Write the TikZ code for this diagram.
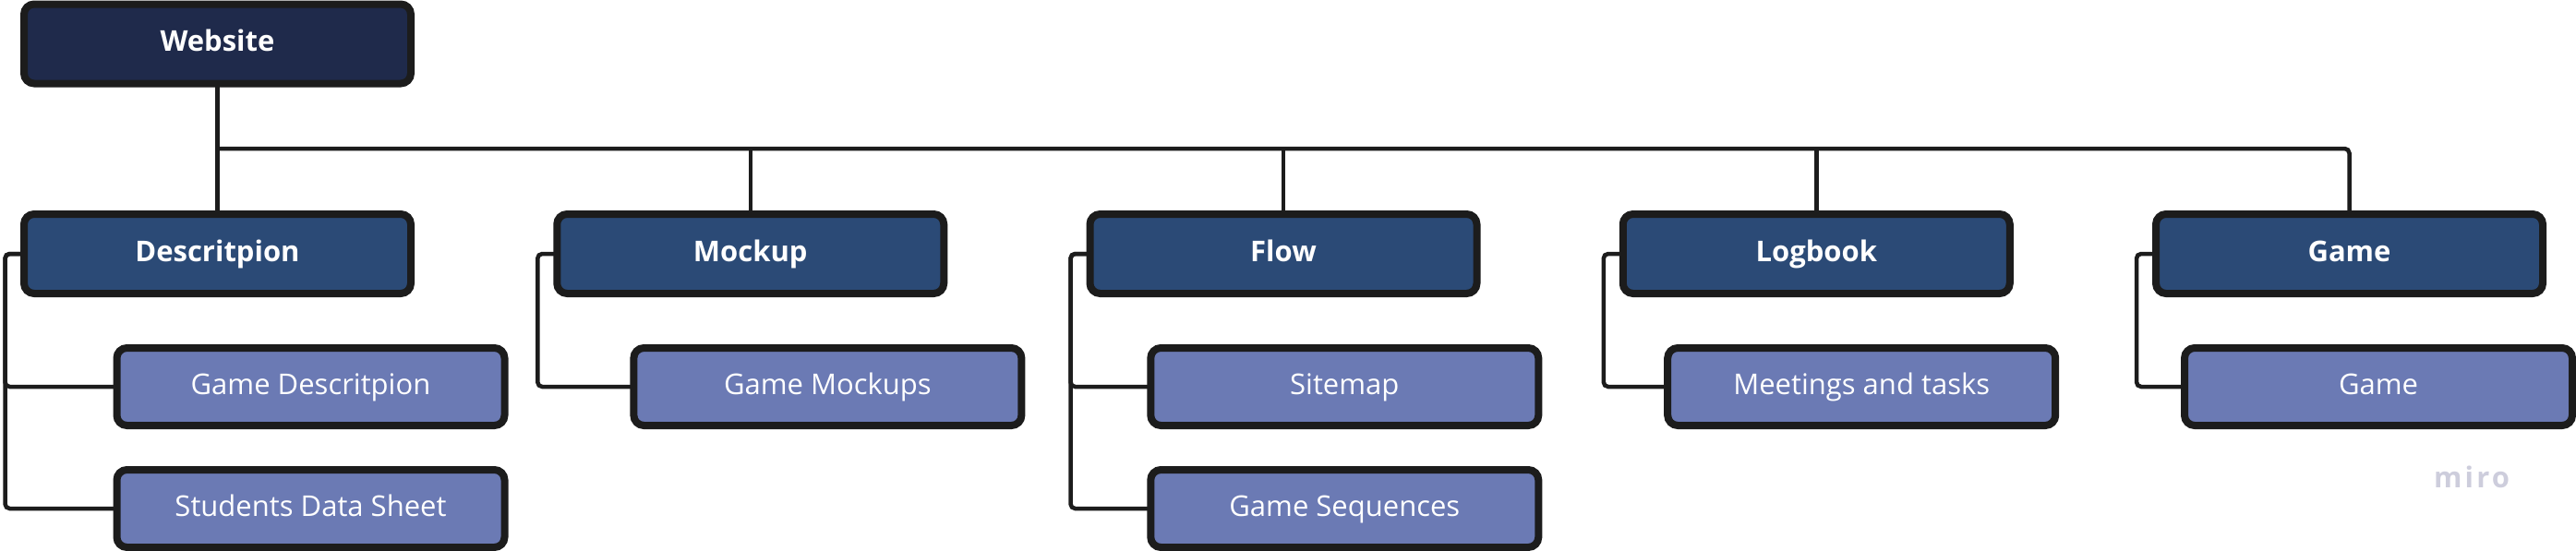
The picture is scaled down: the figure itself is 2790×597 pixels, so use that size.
\documentclass[tikz,border=0pt]{standalone}
\usepackage{fontspec}
\setmainfont{Open Sans}
\newfontfamily\mirofont[LetterSpace=10]{Open Sans}
\definecolor{webfill}{HTML}{1F2A4B}
\definecolor{parfill}{HTML}{2B4A76}
\definecolor{kidfill}{HTML}{6B7AB4}
\definecolor{edge}{HTML}{1C1C1C}
\definecolor{mirocol}{HTML}{CDCDDC}
\begin{document}
\begin{tikzpicture}[x=1pt,y=-1pt,
  boxbase/.style={draw=edge, line width=8pt, rounded corners=11pt, inner sep=0pt, outer sep=0pt,
    text=white, text height=16pt, text depth=0pt, font=\fontsize{31}{36}\selectfont},
  topbox/.style={boxbase, fill=webfill, minimum width=419pt, minimum height=86pt, font=\fontsize{31}{36}\selectfont\bfseries},
  parbox/.style={boxbase, fill=parfill, minimum width=419pt, minimum height=86pt, font=\fontsize{31}{36}\selectfont\bfseries},
  kidbox/.style={boxbase, fill=kidfill, minimum width=420pt, minimum height=84pt},
  conn/.style={draw=edge, line width=4.5pt, rounded corners=5pt}
]
\useasboundingbox (0,0) rectangle (2790,597);
\coordinate (bus) at (235.5,161);
\node[topbox] (web) at (235.5,47.5) {Website};
\node[parbox] (desc) at (235.5,275) {Descritpion};
\node[parbox] (mock) at (812.75,275) {Mockup};
\node[parbox] (flow) at (1390,275) {Flow};
\node[parbox] (logb) at (1967.25,275) {Logbook};
\node[parbox] (game) at (2544.5,275) {Game};

\node[kidbox] (gdesc) at (336.5,419) {Game Descritpion};
\node[kidbox] (sds) at (336.5,551) {Students Data Sheet};
\node[kidbox] (gmock) at (896.4,419) {Game Mockups};
\node[kidbox] (site) at (1456.3,419) {Sitemap};
\node[kidbox] (gseq) at (1456.3,551) {Game Sequences};
\node[kidbox] (meet) at (2016.2,419) {Meetings and tasks};
\node[kidbox] (gkid) at (2576,419) {Game};

\draw[conn] (web.south) -- (desc.north);
\draw[conn] (bus) -| (game.north);
\draw[conn] (bus -| mock.north) -- (mock.north);
\draw[conn] (bus -| flow.north) -- (flow.north);
\draw[conn] (bus -| logb.north) -- (logb.north);

\draw[conn] (desc.west) -- ++(-20.5,0) |- (sds.west);
\draw[conn] (desc.west) -- ++(-20.5,0) |- (gdesc.west);
\draw[conn] (mock.west) -- ++(-21,0) |- (gmock.west);
\draw[conn] (flow.west) -- ++(-21,0) |- (gseq.west);
\draw[conn] (flow.west) -- ++(-21,0) |- (site.west);
\draw[conn] (logb.west) -- ++(-21,0) |- (meet.west);
\draw[conn] (game.west) -- ++(-21,0) |- (gkid.west);

\node[anchor=base west, inner sep=0pt, text=mirocol, font=\fontsize{31}{34}\mirofont\bfseries] (miro) at (2636,528) {miro};
\end{tikzpicture}
\end{document}
